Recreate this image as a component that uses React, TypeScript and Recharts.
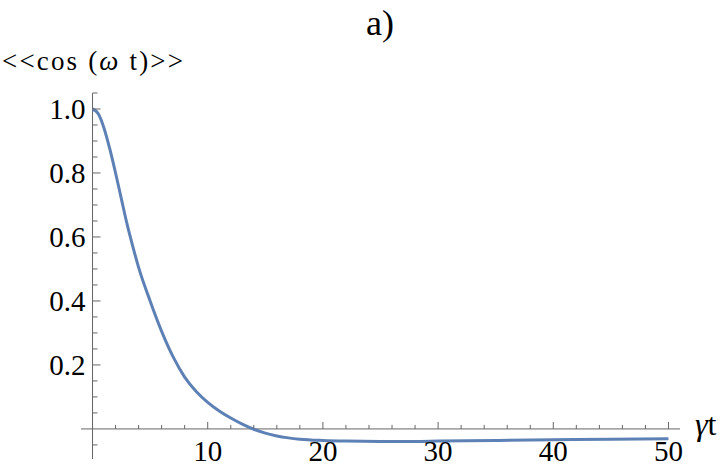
import { LineChart, Line, XAxis, YAxis, ReferenceLine } from "recharts";

// curve values
const gammaT = [
  0, 0.5, 1, 1.5, 2, 2.5, 3, 3.5, 4, 5, 6, 7, 8, 9, 10, 11, 12, 13, 14, 15,
  16, 17, 18, 20, 22, 25, 28, 30, 35, 40, 45, 50,
];
const cosAvg = [
  1.0, 0.985, 0.94, 0.875, 0.8, 0.72, 0.64, 0.57, 0.505, 0.4, 0.305, 0.225,
  0.162, 0.117, 0.083, 0.056, 0.034, 0.015, -0.001, -0.013, -0.022, -0.028,
  -0.032, -0.036, -0.038, -0.039, -0.039, -0.038, -0.036, -0.034, -0.032,
  -0.031,
];

const xTicks = [
  2, 4, 6, 8, 10, 12, 14, 16, 18, 20, 22, 24, 26, 28, 30, 32, 34, 36, 38, 40,
  42, 44, 46, 48, 50,
];
const yTicks = [
  -0.05, 0.05, 0.1, 0.15, 0.2, 0.25, 0.3, 0.35, 0.4, 0.45, 0.5, 0.55, 0.6,
  0.65, 0.7, 0.75, 0.8, 0.85, 0.9, 0.95, 1.0, 1.05,
];

const data = gammaT.map((t, i) => ({ t, v: cosAvg[i] }));

const W = 720;
const H = 470;
const M = { top: 93, right: 40, bottom: 0, left: 0 };
const XAXIS_H = 11;
const YAXIS_W = 81;
const X_MIN = -1;
const X_MAX = 51;
const Y_MIN = -0.094;
const Y_MAX = 1.05;
const PLOT_L = M.left + YAXIS_W;
const PLOT_W = W - PLOT_L - M.right;
const PLOT_H = H - M.top - M.bottom - XAXIS_H;
// pixel position of the origin, where the axes cross
const zeroX = PLOT_L + (PLOT_W * (0 - X_MIN)) / (X_MAX - X_MIN);
const zeroY = M.top + (PLOT_H * (Y_MAX - 0)) / (Y_MAX - Y_MIN);

const AXIS = "#666";
const FONT = "Liberation Serif, Times New Roman, serif";

function XTick(props: any) {
  const { x, payload } = props;
  const v = payload.value;
  const major = v % 10 === 0;
  return (
    <g>
      <line x1={x} x2={x} y1={zeroY} y2={zeroY - (major ? 7 : 4)} stroke={AXIS} />
      {major && (
        <text x={x} y={zeroY + 32} textAnchor="middle" fontSize={29} style={{ fontFamily: FONT }} fill="#000">
          {v}
        </text>
      )}
    </g>
  );
}

function YTick(props: any) {
  const { y, payload } = props;
  const v = payload.value;
  const major = Math.abs(v * 5 - Math.round(v * 5)) < 1e-6;
  return (
    <g>
      <line x1={zeroX} x2={zeroX + (major ? 8 : 5)} y1={y} y2={y} stroke={AXIS} />
      {major && (
        <text x={zeroX - 7} y={y + 10} textAnchor="end" fontSize={29} style={{ fontFamily: FONT }} fill="#000">
          {v.toFixed(1)}
        </text>
      )}
    </g>
  );
}

export default function App() {
  return (
    <div style={{ position: "absolute", left: 0, top: 0, width: W, height: H, background: "#fff", fontFamily: FONT }}>
      <LineChart width={W} height={H} data={data} margin={M}>
        <XAxis
          dataKey="t"
          type="number"
          domain={[X_MIN, X_MAX]}
          ticks={xTicks}
          interval={0}
          height={XAXIS_H}
          axisLine={false}
          tickLine={false}
          tick={(p: any) => <XTick {...p} />}
          allowDataOverflow
        />
        <YAxis
          type="number"
          domain={[Y_MIN, Y_MAX]}
          ticks={yTicks}
          interval={0}
          width={YAXIS_W}
          axisLine={false}
          tickLine={false}
          tick={(p: any) => <YTick {...p} />}
          allowDataOverflow
        />
        <ReferenceLine y={0} stroke={AXIS} strokeWidth={1} />
        <ReferenceLine x={0} stroke={AXIS} strokeWidth={1} />
        <Line
          dataKey="v"
          type="monotone"
          stroke="#5E81B5"
          strokeWidth={3}
          dot={false}
          isAnimationActive={false}
        />
      </LineChart>
      <svg
        width={W}
        height={H}
        style={{ position: "absolute", left: 0, top: 0, pointerEvents: "none" }}
      >
        <text x={380} y={35} textAnchor="middle" fontSize={36} style={{ fontFamily: FONT }} fill="#000">
          a)
        </text>
        <text x={2} y={70} fontSize={27} textLength={181} lengthAdjust="spacing" style={{ fontFamily: FONT }} fill="#000">
          {"<<cos ("}
          <tspan fontStyle="italic">ω</tspan>
          {" t)>>"}
        </text>
        <text x={695} y={435} fontSize={32} style={{ fontFamily: FONT }} fill="#000">
          <tspan fontStyle="italic">γ</tspan>t
        </text>
      </svg>
    </div>
  );
}
